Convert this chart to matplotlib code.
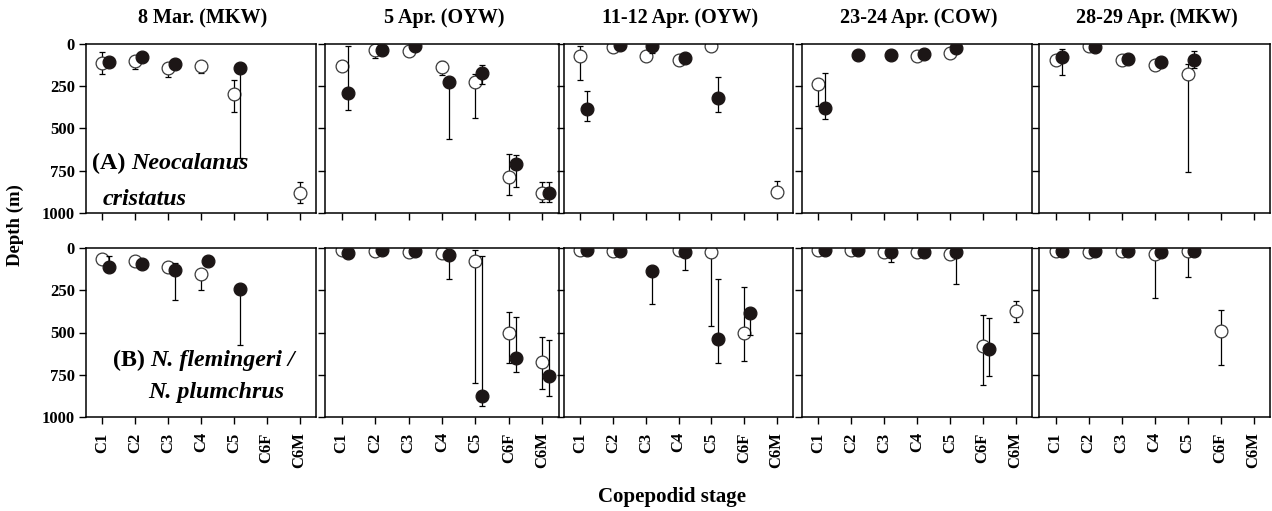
import numpy as np
import matplotlib
matplotlib.use("Agg")
import matplotlib.pyplot as plt

plt.rcParams['font.family'] = ['Liberation Serif', 'DejaVu Serif']
plt.rcParams['font.weight'] = 'bold'

N = np.nan

dates = ["8 Mar. (MKW)", "5 Apr. (OYW)", "11-12 Apr. (OYW)",
         "23-24 Apr. (COW)", "28-29 Apr. (MKW)"]
stages = ["C1", "C2", "C3", "C4", "C5", "C6F", "C6M"]

# Neocalanus cristatus: mean depth (m) per date (rows) and stage (cols)
# open = day, filled = night; *_top / *_bot = ends of the error bars
cris_open = [
    [115, 103, 144, 128, 298, N, 879],
    [133, 34, 40, 139, 226, 786, 881],
    [73, 18, 69, 97, 14, N, 873],
    [237, N, N, 73, 53, N, N],
    [93, 14, 93, 123, 180, N, N],
]
cris_open_top = [
    [45, N, N, N, 213, N, 814],
    [N, N, N, 103, 178, 653, 816],
    [10, N, N, N, N, N, 810],
    [N, N, N, N, N, N, N],
    [N, N, N, N, 117, N, N],
]
cris_open_bot = [
    [178, 148, 194, 170, 403, N, 939],
    [N, 83, N, 182, 440, 895, 937],
    [212, N, N, N, N, N, N],
    [366, N, N, N, N, N, N],
    [N, N, N, N, 760, N, N],
]
cris_full = [
    [109, 75, 119, N, 140, N, N],
    [291, 38, 14, 224, 174, 713, 881],
    [384, 8, 12, 85, 317, N, N],
    [379, 63, 63, 59, 24, N, N],
    [77, 18, 87, 105, 97, N, N],
]
cris_full_top = [
    [N, 60, N, N, N, N, N],
    [10, N, N, N, 125, 655, 816],
    [281, N, N, N, 196, N, N],
    [172, N, N, N, N, N, N],
    [32, N, N, N, 42, N, N],
]
cris_full_bot = [
    [N, 100, N, N, 674, N, N],
    [390, N, N, 564, 238, 848, 937],
    [457, N, 55, N, 402, N, N],
    [441, N, N, N, N, N, N],
    [182, N, N, N, 141, N, N],
]

# N. flemingeri / N. plumchrus
plum_open = [
    [63, 79, 114, 152, N, N, N],
    [10, 16, 24, 30, 79, 501, 673],
    [14, 20, N, 14, 24, 501, N],
    [12, 12, 22, 22, 34, 581, 375],
    [20, 26, 20, 36, 20, 489, N],
]
plum_open_top = [
    [N, N, N, N, N, N, N],
    [N, N, N, N, 10, 376, 525],
    [N, N, N, N, N, 232, N],
    [N, N, N, N, N, 395, 314],
    [N, N, N, N, N, 369, N],
]
plum_open_bot = [
    [N, N, N, 250, N, N, N],
    [N, N, N, N, 796, 683, 836],
    [N, N, N, N, 461, 669, N],
    [N, N, N, N, N, 808, 435],
    [N, N, N, 296, 172, 692, N],
]
plum_full = [
    [112, 93, 132, 79, 241, N, N],
    [30, 14, 16, 40, 875, 650, 756],
    [14, 16, 139, 26, 539, 386, N],
    [12, 12, 26, 22, 22, 595, N],
    [20, 16, 16, 24, 16, N, N],
]
plum_full_top = [
    [47, N, 89, N, N, N, N],
    [N, N, N, N, 50, 410, 547],
    [N, N, N, N, 182, N, N],
    [N, N, N, N, N, 415, N],
    [N, N, N, N, N, N, N],
]
plum_full_bot = [
    [N, N, 310, N, 576, N, N],
    [N, N, N, 182, 937, 735, 877],
    [N, N, 333, 129, 683, 515, N],
    [N, N, 81, N, 211, 757, N],
    [N, N, N, N, N, N, N],
]

W, H = 1272, 511
fig = plt.figure(figsize=(W / 100, H / 100), dpi=100)

col_left = [86, 325, 564, 802, 1039]
col_w = [230, 234, 229, 230, 231]
row_top = [44, 248]
row_h = 169

x = np.arange(1, len(stages) + 1)


def draw_series(ax, xs, mean, top, bot, face, z):
    mean = np.array(mean, float)
    top = np.array(top, float)
    bot = np.array(bot, float)
    top = np.where(np.isnan(top), mean, top)
    bot = np.where(np.isnan(bot), mean, bot)
    err = np.vstack([mean - top, bot - mean])
    ax.errorbar(xs, mean, yerr=err, fmt='none', ecolor='black',
                elinewidth=0.9, capsize=2.5, capthick=0.9, zorder=z)
    ax.plot(xs, mean, 'o', ms=9.2, mfc=face, mec='#3a3a3a' if face == 'white' else '#1c1616',
            mew=0.9, ls='none', zorder=z + 0.5)


def species_label(ax, x0, y0, head, tail):
    t = ax.text(x0, y0, head, transform=ax.transAxes, fontsize=17.3,
                fontweight='bold', ha='left', va='bottom')
    ax.annotate(tail, xy=(1, 0), xycoords=t, xytext=(4, 0),
                textcoords='offset points', fontsize=17.3, fontweight='bold',
                fontstyle='italic', ha='left', va='bottom')


species = [
    (cris_open, cris_open_top, cris_open_bot, cris_full, cris_full_top, cris_full_bot),
    (plum_open, plum_open_top, plum_open_bot, plum_full, plum_full_top, plum_full_bot),
]

for r in range(2):
    o_m, o_t, o_b, f_m, f_t, f_b = species[r]
    for c in range(5):
        left = col_left[c] / W
        bottom = 1 - (row_top[r] + row_h) / H
        ax = fig.add_axes([left, bottom, col_w[c] / W, row_h / H])

        draw_series(ax, x, o_m[c], o_t[c], o_b[c], 'white', 2)
        draw_series(ax, x + 0.2, f_m[c], f_t[c], f_b[c], '#1c1616', 4)

        ax.set_xlim(0.5, 7.5)
        ax.set_ylim(1000, 0)
        ax.set_yticks([0, 250, 500, 750, 1000])
        ax.set_xticks(x)
        ax.tick_params(direction='out', length=5, width=1.0, labelsize=12)
        ax.tick_params(axis='x', pad=6)
        ax.tick_params(axis='y', pad=3)
        for s in ax.spines.values():
            s.set_linewidth(1.1)
        if c > 0:
            ax.set_yticklabels([])
        if r == 0:
            ax.set_xticklabels([])
        else:
            ax.set_xticklabels(stages, rotation=90)
        for lab in ax.get_xticklabels() + ax.get_yticklabels():
            lab.set_fontweight('bold')

        if r == 0:
            fig.text((col_left[c] + col_w[c] / 2) / W + 2 / W, 1 - 18 / H, dates[c],
                     ha='center', va='center', fontsize=14.5, fontweight='bold')

        if c == 0 and r == 0:
            species_label(ax, 0.026, 0.23, "(A)", "Neocalanus")
            ax.text(0.074, 0.02, "cristatus", transform=ax.transAxes,
                    fontsize=17.3, fontweight='bold', fontstyle='italic',
                    ha='left', va='bottom')
        if c == 0 and r == 1:
            species_label(ax, 0.117, 0.27, "(B)", "N. flemingeri /")
            ax.text(0.27, 0.08, "N. plumchrus", transform=ax.transAxes,
                    fontsize=17.3, fontweight='bold', fontstyle='italic',
                    ha='left', va='bottom')

fig.text(15 / W, 1 - 225 / H, "Depth (m)", rotation=90, ha='center',
         va='center', fontsize=13.5, fontweight='bold')
fig.text(672 / W, 1 - 497 / H, "Copepodid stage", ha='center', va='center',
         fontsize=15, fontweight='bold')

fig.savefig("out.png", dpi=100)
